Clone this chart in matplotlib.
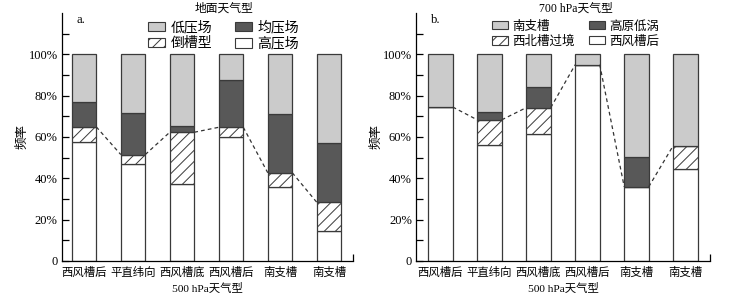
import numpy as np
import matplotlib
matplotlib.use("Agg")
import matplotlib.pyplot as plt
from matplotlib.patches import Patch

plt.rcParams["font.family"] = ["Liberation Serif", "Noto Sans CJK SC"]
plt.rcParams["hatch.linewidth"] = 0.7
plt.rcParams["hatch.color"] = "#444444"

# region Data

categories = ["西风槽后", "平直纬向", "西风槽底", "西风槽后", "南支槽", "南支槽"]

# panel a: surface patterns, percent per layer (bottom to top)
a_white = [57.7, 46.7, 37.2, 59.8, 35.6, 14.4]
a_hatch = [7.2, 4.8, 25.1, 4.9, 7.1, 14.0]
a_dark = [12.1, 19.9, 3.2, 22.7, 28.4, 28.5]
a_labels = ["低压场", "均压场", "倒槽型", "高压场"]  # light, dark, hatch, white

# panel b: 700 hPa patterns
b_white = [74.5, 56.0, 61.3, 95.0, 35.9, 44.3]
b_hatch = [0.0, 12.3, 12.9, 0.0, 0.0, 11.5]
b_dark = [0.0, 3.9, 9.8, 0.0, 14.3, 0.0]
b_labels = ["南支槽", "高原低涡", "西北槽过境", "西风槽后"]

# endregion

LIGHT = "#cbcbcb"
DARK = "#585858"
EDGE = "#3a3a3a"
W, H = 754, 305


def stacked(ax, white, hatch, dark, labels, title, tag, xlim, leg_xy, leg_fs, colsp):
    x = np.arange(len(categories))
    w = 0.5
    white = np.array(white)
    hatch = np.array(hatch)
    dark = np.array(dark)
    light = 100 - white - hatch - dark
    kw = dict(width=w, edgecolor=EDGE, linewidth=0.9)
    ax.bar(x, white, color="white", **kw)
    ax.bar(x, hatch, bottom=white, color="white", hatch="///", **kw)
    ax.bar(x, dark, bottom=white + hatch, color=DARK, **kw)
    ax.bar(x, light, bottom=white + hatch + dark, color=LIGHT, **kw)

    # dashed connectors between adjacent bars (top of hatch layer)
    top = white + hatch
    for i in range(len(x) - 1):
        ax.plot([x[i] + w / 2, x[i + 1] - w / 2], [top[i], top[i + 1]],
                color="#333333", linestyle=(0, (3, 2.5)), linewidth=0.9, zorder=3)

    ax.set_xlim(*xlim)
    ax.set_ylim(0, 120)
    ax.set_yticks([0, 20, 40, 60, 80, 100])
    ax.set_yticklabels(["0", "20%", "40%", "60%", "80%", "100%"], fontsize=9)
    ax.set_yticks(np.arange(10, 121, 20), minor=True)
    ax.tick_params(axis="y", which="both", direction="in", length=5, width=0.9, pad=3)
    ax.set_xticks(x)
    ax.set_xticklabels(categories, fontsize=8.2)
    ax.tick_params(axis="x", which="major", length=0, pad=4)
    ax.set_xticks([xlim[1]], minor=True)
    ax.tick_params(axis="x", which="minor", direction="in", length=5, width=0.9)
    ax.spines["top"].set_visible(False)
    ax.spines["right"].set_visible(False)
    for s in ("left", "bottom"):
        ax.spines[s].set_linewidth(0.9)
    ax.set_xlabel("500 hPa天气型", fontsize=8.2, labelpad=4)
    ax.set_ylabel("频率", fontsize=9, labelpad=0)

    handles = [
        Patch(facecolor=LIGHT, edgecolor=EDGE, linewidth=0.8),
        Patch(facecolor="white", edgecolor=EDGE, hatch="///", linewidth=0.8),
        Patch(facecolor=DARK, edgecolor=EDGE, linewidth=0.8),
        Patch(facecolor="white", edgecolor=EDGE, linewidth=0.8),
    ]
    order = [labels[0], labels[2], labels[1], labels[3]]
    fig = ax.figure
    leg = ax.legend(handles, order, ncol=2, frameon=False, fontsize=leg_fs,
                    title=title, title_fontsize=8.5, loc="upper left",
                    bbox_to_anchor=(leg_xy[0] / W, 1 - leg_xy[1] / H),
                    bbox_transform=fig.transFigure,
                    handlelength=1.25, handleheight=0.65, handletextpad=0.4,
                    columnspacing=colsp, labelspacing=0.22, borderpad=0,
                    borderaxespad=0)
    leg._legend_box.sep = 4
    ax.text(0.05, 0.995, tag, transform=ax.transAxes, fontsize=9, va="top")


fig = plt.figure(figsize=(W / 100, H / 100), dpi=100)
ax1 = fig.add_axes([0.0822, 0.1443, 0.3860, 0.8131])
ax2 = fig.add_axes([0.5517, 0.1443, 0.3899, 0.8131])

stacked(ax1, a_white, a_hatch, a_dark, a_labels, "地面天气型", "a.",
        (-0.45, 5.49), (148, 3), 10, 1.6)
stacked(ax2, b_white, b_hatch, b_dark, b_labels, "700 hPa天气型", "b.",
        (-0.5, 5.5), (492, 3), 9, 1.1)

fig.savefig("out.png", dpi=100)
